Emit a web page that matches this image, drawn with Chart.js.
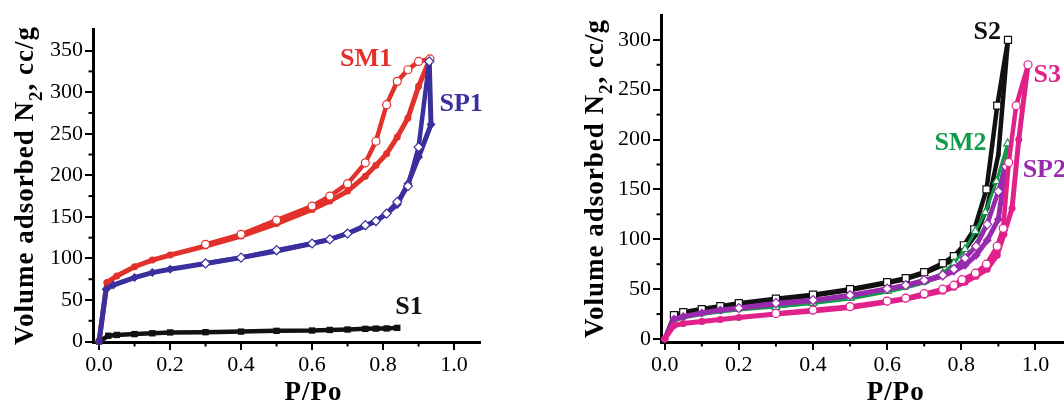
<!DOCTYPE html>
<html><head><meta charset="utf-8">
<script src="https://cdn.jsdelivr.net/npm/chart.js@4.4.1/dist/chart.umd.min.js"></script>
<style>
html,body{margin:0;padding:0;width:1064px;height:403px;overflow:hidden;background:#fff;}
#c1{position:absolute;left:0;top:0;}
#c2{position:absolute;left:540px;top:0;}
</style></head><body>
<canvas id="c1" width="540" height="403"></canvas>
<canvas id="c2" width="600" height="403"></canvas>
<script>
// ---------- Left panel data ----------
const P_SM1_ads = [0, 0.022, 0.05, 0.1, 0.15, 0.2, 0.3, 0.4, 0.5, 0.6, 0.65, 0.7, 0.75, 0.78, 0.81, 0.84, 0.87, 0.9, 0.932];
const V_SM1_ads = [0, 71, 79, 90, 98, 104, 115, 127, 142, 159, 169, 181, 199, 212, 226, 246, 269, 307, 340];
const P_SM1_des = [0.932, 0.9, 0.87, 0.84, 0.81, 0.78, 0.75, 0.7, 0.65, 0.6, 0.5, 0.4, 0.3];
const V_SM1_des = [340, 337, 327, 313, 285, 241, 215, 190, 175, 163, 146, 129, 117];

const P_SP1_ads = [0, 0.02, 0.04, 0.1, 0.15, 0.2, 0.3, 0.4, 0.5, 0.6, 0.65, 0.7, 0.75, 0.78, 0.81, 0.84, 0.87, 0.9, 0.935, 0.93];
const V_SP1_ads = [0, 63, 68, 77, 83, 87, 94, 101, 109, 118, 123, 130, 139, 145, 154, 165, 190, 222, 261, 337];
const P_SP1_des = [0.93, 0.9, 0.87, 0.84, 0.81, 0.78, 0.75, 0.7, 0.65, 0.6, 0.5, 0.4, 0.3];
const V_SP1_des = [337, 234, 187, 168, 154, 145, 140, 130, 123, 118, 110, 101, 94];

const P_S1 = [0, 0.026, 0.05, 0.1, 0.15, 0.2, 0.3, 0.4, 0.5, 0.6, 0.65, 0.7, 0.75, 0.78, 0.81, 0.84];
const V_S1 = [0, 7, 8, 9, 10, 11, 11.3, 12, 12.9, 13.3, 14, 14.5, 15.3, 15.6, 15.8, 16.5];

// ---------- Right panel data ----------
const P_S2_ads = [0, 0.025, 0.05, 0.1, 0.15, 0.2, 0.3, 0.4, 0.5, 0.6, 0.65, 0.7, 0.75, 0.78, 0.81, 0.84, 0.87, 0.9, 0.926];
const V_S2_ads = [0, 23, 26, 29, 32, 35, 39.5, 43.5, 49, 56, 60, 66, 74, 80, 90, 105, 132, 185, 300];
const P_S2_des = [0.926, 0.897, 0.868, 0.835, 0.807, 0.78, 0.75, 0.7, 0.65, 0.6, 0.5, 0.4, 0.3, 0.2, 0.15, 0.1, 0.05, 0.025];
const V_S2_des = [300, 234, 150, 110, 94, 83, 76, 67, 61, 57, 50, 44.5, 40.5, 36, 33, 30, 27, 24];

const P_S3_ads = [0, 0.025, 0.05, 0.1, 0.15, 0.2, 0.3, 0.4, 0.5, 0.6, 0.65, 0.7, 0.75, 0.78, 0.81, 0.84, 0.87, 0.897, 0.915, 0.937, 0.955, 0.98];
const V_S3_ads = [0, 13.5, 15.5, 17.5, 19.5, 21.5, 25, 28, 31.5, 37, 40, 44, 48, 52, 57, 63, 70, 84, 105, 131, 200, 275];
const P_S3_des = [0.98, 0.948, 0.928, 0.913, 0.897, 0.868, 0.838, 0.802, 0.78, 0.75, 0.7, 0.65, 0.6, 0.5, 0.4, 0.3];
const V_S3_des = [275, 234, 177, 111, 93, 75, 66, 59.5, 54, 50, 45.5, 41, 38, 32.5, 29, 25.6];

const P_SP2_ads = [0, 0.025, 0.05, 0.1, 0.15, 0.2, 0.3, 0.4, 0.5, 0.6, 0.65, 0.7, 0.75, 0.78, 0.81, 0.84, 0.87, 0.9, 0.92];
const V_SP2_ads = [0, 20, 22.5, 26, 29, 31, 35, 38.5, 43.5, 50, 53.5, 58, 63, 68, 74, 84, 99, 120, 173];
const P_SP2_des = [0.92, 0.9, 0.87, 0.84, 0.81, 0.78, 0.75, 0.7, 0.65, 0.6, 0.5, 0.4, 0.3, 0.2];
const V_SP2_des = [173, 148, 115, 93, 81, 70, 64, 59, 54, 50.5, 44, 39, 36, 31];

const P_SM2_ads = [0, 0.025, 0.05, 0.1, 0.15, 0.2, 0.3, 0.4, 0.5, 0.6, 0.65, 0.7, 0.75, 0.78, 0.81, 0.84, 0.87, 0.9, 0.925];
const V_SM2_ads = [0, 18, 21, 24.5, 27, 29, 32, 35.5, 40, 47, 51, 56, 63, 70, 80, 96, 118, 150, 190];
const P_SM2_des = [0.925, 0.895, 0.865, 0.838, 0.81, 0.78, 0.75, 0.7, 0.6, 0.5, 0.4, 0.3];
const V_SM2_des = [196, 158, 127, 108, 90, 76, 66, 58, 48, 41, 36, 32];

// ---------- Tick labels / annotations ----------
const xTicksMajor = [0, 0.2, 0.4, 0.6, 0.8, 1.0];
const xTicksMinor = [0.1, 0.3, 0.5, 0.7, 0.9];
const yMinorLeft = [25, 75, 125, 175, 225, 275, 325];
const yMinorRight = [25, 75, 125, 175, 225, 275];
const labelsLeft = [
  {text: 'SM1', x: 0.752, y: 331, color: '#e2302a'},
  {text: 'SP1', x: 1.02, y: 277.5, color: '#3b2f9e'},
  {text: 'S1', x: 0.873, y: 33, color: '#111111'}
];
const labelsRight = [
  {text: 'S2', x: 0.870, y: 301, color: '#111111'},
  {text: 'S3', x: 1.032, y: 258, color: '#e0218a'},
  {text: 'SM2', x: 0.798, y: 190, color: '#119a4a'},
  {text: 'SP2', x: 1.024, y: 162.6, color: '#9a2aad'}
];
const xTitle = 'P/Po';
const yTitleParts = ['Volume adsorbed N', '2', ', cc/g'];

// ---------- helpers ----------
function pts(P, V) { return P.map((x, i) => ({x: x, y: V[i]})); }
function ds(label, P, V, color, style, open, lw, r) {
  return {
    label: label, data: pts(P, V), showLine: true, clip: false,
    borderColor: color, borderWidth: lw, tension: 0,
    pointStyle: style, pointRadius: r,
    pointBackgroundColor: open ? '#ffffff' : color,
    pointBorderColor: color, pointBorderWidth: open ? 1.2 : 0
  };
}
const FONT = '"Liberation Serif", "Times New Roman", serif';

const decor = {
  id: 'decor',
  afterDraw(chart, args, o) {
    const ctx = chart.ctx, xs = chart.scales.x, ys = chart.scales.y, ca = chart.chartArea;
    ctx.save();
    ctx.strokeStyle = '#000'; ctx.lineWidth = 2;
    o.xMinor.forEach(v => {
      const p = xs.getPixelForValue(v);
      ctx.beginPath(); ctx.moveTo(p, ca.bottom); ctx.lineTo(p, ca.bottom + 4.5); ctx.stroke();
    });
    o.yMinor.forEach(v => {
      const p = ys.getPixelForValue(v);
      ctx.beginPath(); ctx.moveTo(ca.left, p); ctx.lineTo(ca.left - 4.5, p); ctx.stroke();
    });
    // series labels
    ctx.textAlign = 'center'; ctx.textBaseline = 'alphabetic';
    ctx.font = 'bold 26px ' + FONT;
    o.labels.forEach(a => {
      ctx.fillStyle = a.color;
      ctx.fillText(a.text, xs.getPixelForValue(a.x), ys.getPixelForValue(a.y));
    });
    // x title
    ctx.fillStyle = '#000';
    ctx.font = 'bold 27px ' + FONT;
    ctx.letterSpacing = '1px';
    ctx.fillText(xTitle, (ca.left + ca.right) / 2 + o.xTitleShift, o.xTitleBase);
    // y title with subscript
    ctx.translate(ca.left - o.yTitleGap, (ca.top + ca.bottom) / 2);
    ctx.rotate(-Math.PI / 2);
    ctx.textAlign = 'left';
    const fMain = 'bold 27px ' + FONT, fSub = 'bold 19px ' + FONT;
    ctx.font = fMain; const w0 = ctx.measureText(yTitleParts[0]).width;
    ctx.font = fSub;  const w1 = ctx.measureText(yTitleParts[1]).width;
    ctx.font = fMain; const w2 = ctx.measureText(yTitleParts[2]).width;
    let x = -(w0 + w1 + w2) / 2;
    ctx.font = fMain; ctx.fillText(yTitleParts[0], x, 0); x += w0;
    ctx.font = fSub;  ctx.fillText(yTitleParts[1], x, 9); x += w1;
    ctx.font = fMain; ctx.fillText(yTitleParts[2], x, 0);
    ctx.restore();
  }
};

function axisOpts(min, max, step, fmt, fitFn) {
  return {
    type: 'linear', min: min, max: max, afterFit: fitFn,
    ticks: {stepSize: step, includeBounds: false, autoSkip: false, maxRotation: 0,
            color: '#000', font: {family: FONT, size: 22}, padding: 2, callback: fmt},
    grid: {drawOnChartArea: false, drawTicks: true, tickLength: 8, color: '#000', lineWidth: 2},
    border: {display: true, color: '#000', width: 3},
    title: {display: false}
  };
}

function makeChart(id, datasets, cfg) {
  return new Chart(document.getElementById(id), {
    type: 'scatter',
    data: {datasets: datasets},
    options: {
      responsive: false, animation: false, devicePixelRatio: 1, events: [],
      layout: {padding: cfg.pad},
      plugins: {legend: {display: false}, tooltip: {enabled: false},
                decor: cfg.decor},
      scales: {
        x: axisOpts(cfg.xmin, cfg.xmax, 0.2, v => v.toFixed(1), s => { s.height = cfg.xh; }),
        y: axisOpts(cfg.ymin, cfg.ymax, 50, v => String(Math.round(v)), s => { s.width = cfg.yw; })
      }
    },
    plugins: [decor]
  });
}

const RED = '#e2302a', BLUE = '#3b2f9e', BLK = '#111111', PINK = '#e0218a', GRN = '#119a4a', PUR = '#9a2aad';

makeChart('c1', [
  ds('SP1 des', P_SP1_des, V_SP1_des, BLUE, 'rectRot', true, 4.5, 4.5),
  ds('SP1 ads', P_SP1_ads, V_SP1_ads, BLUE, 'rectRot', false, 5, 4.5),
  ds('SM1 des', P_SM1_des, V_SM1_des, RED, 'circle', true, 4.5, 4),
  ds('SM1 ads', P_SM1_ads, V_SM1_ads, RED, 'circle', false, 5, 3.5),
  ds('S1', P_S1, V_S1, BLK, 'rect', false, 4.5, 4.5)
], {pad: {left: 0, right: 60, top: 29, bottom: 0}, xmin: -0.017, xmax: 1.073, ymin: -0.5, ymax: 376,
    xh: 61, yw: 93,
    decor: {xMinor: xTicksMinor, yMinor: yMinorLeft, labels: labelsLeft, xTitleShift: 27, xTitleBase: 400, yTitleGap: 60}});

makeChart('c2', [
  ds('S3 des', P_S3_des, V_S3_des, PINK, 'circle', true, 4.5, 4),
  ds('S3 ads', P_S3_ads, V_S3_ads, PINK, 'circle', false, 5, 3.5),
  ds('SP2 des', P_SP2_des, V_SP2_des, PUR, 'rectRot', true, 4.5, 4.5),
  ds('SP2 ads', P_SP2_ads, V_SP2_ads, PUR, 'rectRot', false, 5, 4.5),
  ds('SM2 des', P_SM2_des, V_SM2_des, GRN, 'triangle', true, 3, 4.5),
  ds('SM2 ads', P_SM2_ads, V_SM2_ads, GRN, 'triangle', false, 3, 3.5),
  ds('S2 des', P_S2_des, V_S2_des, BLK, 'rect', true, 4.5, 5),
  ds('S2 ads', P_S2_ads, V_S2_ads, BLK, 'rect', false, 4.5, 3)
], {pad: {left: 0, right: 67.5, top: 13, bottom: 0}, xmin: -0.01, xmax: 1.1, ymin: -3, ymax: 324.7,
    xh: 61, yw: 121,
    decor: {xMinor: xTicksMinor, yMinor: yMinorRight, labels: labelsRight, xTitleShift: 29, xTitleBase: 400, yTitleGap: 58}});
</script>
</body></html>
